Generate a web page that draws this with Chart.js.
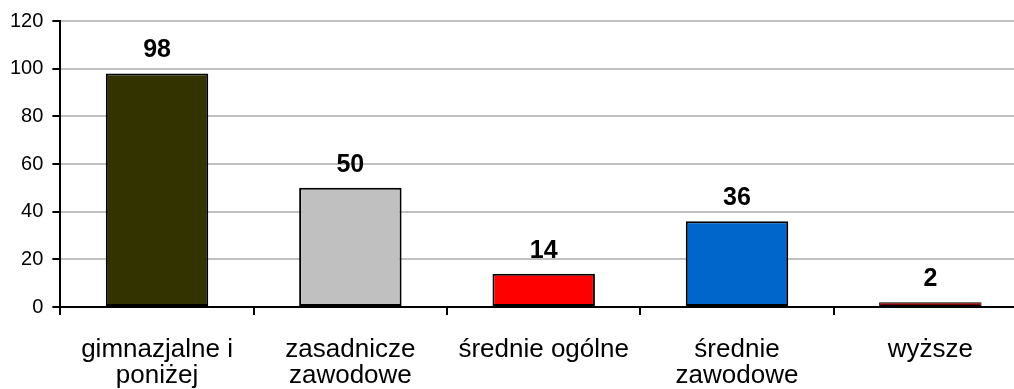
<!DOCTYPE html>
<html>
<head>
<meta charset="utf-8">
<script src="https://cdn.jsdelivr.net/npm/chart.js@4"></script>
<style>
  html, body { margin: 0; padding: 0; background: #fff; overflow: hidden; }
  #wrap { width: 1030px; height: 389px; position: relative; }
</style>
</head>
<body>
<div id="wrap"><canvas id="chart"></canvas></div>
<script>
const categories = [['gimnazjalne i', 'poniżej'], ['zasadnicze', 'zawodowe'], 'średnie ogólne', ['średnie', 'zawodowe'], 'wyższe'];
const values = [98, 50, 14, 36, 2];
const barColors = ['#333300', '#c0c0c0', '#ff0000', '#0066cc', '#800000'];
const yTicks = [0, 20, 40, 60, 80, 100, 120];

// draw value labels above each bar
const valueLabels = {
    id: 'valueLabels',
    afterDatasetsDraw(chart) {
        const ctx = chart.ctx;
        const meta = chart.getDatasetMeta(0);
        ctx.save();
        ctx.font = 'bold 25px "Liberation Sans", Arial, sans-serif';
        ctx.fillStyle = '#000';
        ctx.textAlign = 'center';
        ctx.textBaseline = 'alphabetic';
        meta.data.forEach((bar, i) => {
            ctx.fillText(values[i], bar.x, bar.y - 16);
        });
        ctx.restore();
    }
};

new Chart(document.getElementById('chart').getContext('2d'), {
    type: 'bar',
    data: {
        labels: categories,
        datasets: [{
            data: values,
            backgroundColor: barColors,
            borderColor: '#000',
            // thin bar gets a thinner outline so its fill still shows
            borderWidth: values.map(v => v < 5 ? 1 : 2),
            borderSkipped: false,
            categoryPercentage: 1,
            barPercentage: 0.53
        }]
    },
    options: {
        responsive: true,
        maintainAspectRatio: false,
        animation: false,
        layout: { padding: { top: 17, right: 3, left: 1, bottom: -22 } },
        plugins: { legend: { display: false }, tooltip: { enabled: false } },
        scales: {
            x: {
                offset: true,
                grid: { display: true, offset: true, drawOnChartArea: false, drawTicks: true, tickLength: 8, tickColor: '#000', lineWidth: 2 },
                border: { color: '#000', width: 2 },
                ticks: {
                    color: '#000',
                    padding: 22,
                    maxRotation: 0,
                    autoSkip: false,
                    font: { family: '"Liberation Sans", Arial, sans-serif', size: 26, lineHeight: 1.0 }
                }
            },
            y: {
                min: 0,
                max: 120,
                afterBuildTicks(axis) { axis.ticks = yTicks.map(v => ({ value: v })); },
                grid: { color: '#c0c0c0', lineWidth: 2, tickColor: '#000', tickLength: 8 },
                border: { color: '#000', width: 2 },
                ticks: {
                    color: '#000',
                    padding: 9,
                    font: { family: '"Liberation Sans", Arial, sans-serif', size: 20 }
                }
            }
        }
    },
    plugins: [valueLabels]
});
</script>
</body>
</html>
